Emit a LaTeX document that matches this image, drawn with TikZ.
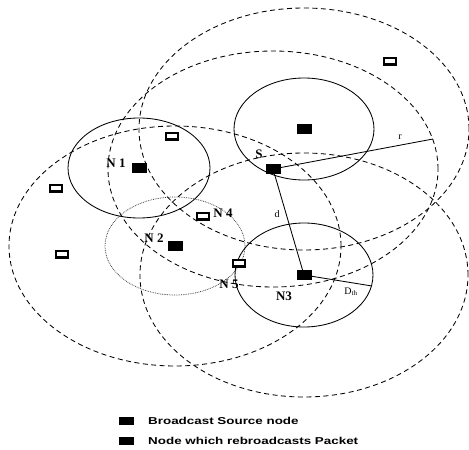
\documentclass[tikz,border=0pt]{standalone}
\usepackage{fontspec}
\setmainfont{Liberation Serif}
\newfontfamily\legendfont{Liberation Sans}
\begin{document}
\begin{tikzpicture}[x=1pt,y=-1pt,
  fillsq/.style={fill=black, minimum width=15pt, minimum height=10pt, inner sep=0pt},
  opensq/.style={draw=black, line width=2.2pt, fill=white, minimum width=11.5pt, minimum height=6.8pt, inner sep=0pt},
  bigring/.style={draw=black, line width=0.85pt, dash pattern=on 5pt off 3.5pt},
  smallring/.style={draw=black, line width=0.85pt},
  faintring/.style={draw=black!80, line width=0.75pt, densely dotted},
  link/.style={draw=black, line width=0.85pt},
  lab/.style={font=\bfseries\fontsize{13}{13}\selectfont, inner sep=0pt},
  sm/.style={font=\fontsize{10}{10}\selectfont, inner sep=0pt},
  legtext/.style={font=\legendfont\bfseries\fontsize{10}{10}\selectfont, inner sep=0pt, anchor=west}]
\useasboundingbox (0,0) rectangle (469,450);

% centres
\coordinate (ct) at (304,129);
\coordinate (cs) at (273,169);
\coordinate (c1) at (139,168);
\coordinate (c2) at (175,246);
\coordinate (c3) at (304,275);

% large dashed ranges
\draw[bigring] (ct) ellipse [x radius=165pt, y radius=121pt];
\draw[bigring] (cs) ellipse [x radius=165pt, y radius=118pt];
\draw[bigring] (c2) ellipse [x radius=166pt, y radius=120pt];
\draw[bigring] (c3) ellipse [x radius=164pt, y radius=122pt];

% small solid ranges
\draw[smallring] (ct) ellipse [x radius=70pt, y radius=51pt];
\draw[smallring] (c1) ellipse [x radius=71pt, y radius=50pt];
\draw[faintring] (c2) ellipse [x radius=70pt, y radius=49pt];
\draw[smallring] (c3) ellipse [x radius=69pt, y radius=52pt];

% radius end points
\coordinate (rend) at (433,139);
\coordinate (dend) at (372,286);

% links
\draw[link] (cs) -- (c3);
\draw[link] (cs) -- (rend);
\draw[link] (c3) -- (dend);

% filled nodes
\node[fillsq] (top) at (ct) {};
\node[fillsq] (S) at (cs) {};
\node[fillsq] (N1) at (c1) {};
\node[fillsq] (N2) at (c2) {};
\node[fillsq] (N3) at (c3) {};

% empty nodes
\node[opensq] (e1) at (390,61) {};
\node[opensq] (e2) at (172,136) {};
\node[opensq] (e3) at (56,188) {};
\node[opensq] (e4) at (62,254) {};
\node[opensq] (N4) at (203,216) {};
\node[opensq] (N5) at (239,263) {};

% labels
\node[lab] (lN1) at (116,163) {N 1};
\node[lab] (lS) at (259,154) {S};
\node[lab] (lN4) at (223,213) {N 4};
\node[lab] (lN2) at (154,238) {N 2};
\node[lab] (lN5) at (229,284) {N 5};
\node[lab] (lN3) at (284,296) {N3};
\node[sm] (ld) at (277,214) {d};
\node[sm] (lr) at (400,137) {r};
\node[sm] (lD) at (351,292) {D\textsubscript{th}};

% legend
\node[fillsq, minimum height=8pt] (lg1) at (126,420.5) {};
\node[legtext] (lt1) at (148,420.5) {\scalebox{1.34}[1]{Broadcast Source node}};
\node[fillsq, minimum height=8pt] (lg2) at (126,440.5) {};
\node[legtext] (lt2) at (148,440.5) {\scalebox{1.34}[1]{Node which rebroadcasts Packet}};
\end{tikzpicture}
\end{document}
